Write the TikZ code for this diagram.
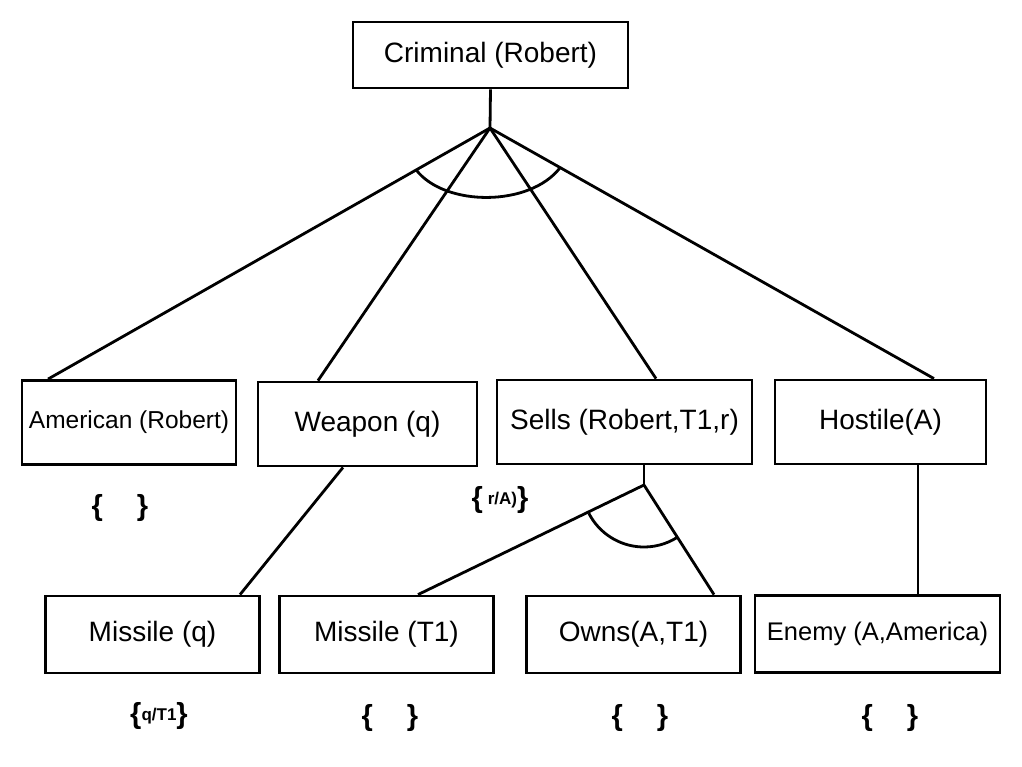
\documentclass[tikz,border=0pt]{standalone}
\usepackage{fontspec}
\setmainfont{Liberation Sans}
\usetikzlibrary{calc}

\newcommand{\substtext}[1]{\raisebox{3pt}{\fontsize{17}{20}\selectfont #1}}

\begin{document}
\begin{tikzpicture}[x=1pt, y=-1pt]
    % Define styles
    \tikzstyle{box} = [rectangle, draw=black, line width=2.8pt, inner sep=0pt, align=center, font=\fontsize{28}{34}\selectfont]
    \tikzstyle{topbox} = [box, minimum width=275pt, minimum height=66pt]
    \tikzstyle{midbox} = [box, minimum height=84pt]
    \tikzstyle{lowbox} = [box, minimum width=214pt, minimum height=77pt]
    \tikzstyle{link} = [line width=2.8pt, line join=round]
    \tikzstyle{subst} = [inner sep=0pt, font=\bfseries\fontsize{29}{34}\selectfont]

    \useasboundingbox (0,0) rectangle (1022,766);

    % Goal
    \node[topbox] (crim) at (490.5,55) {Criminal (Robert)};

    % Sub-goals
    \node[midbox, minimum width=214pt, font=\fontsize{24.5}{30}\selectfont] (amer) at (129,422.5) {American (Robert)};
    \node[midbox, minimum width=219pt] (weap) at (367.5,424) {Weapon (q)};
    \node[midbox, minimum width=255pt] (sells) at (624.5,422) {Sells (Robert,T1,r)};
    \node[midbox, minimum width=211pt] (host) at (880.5,422) {Hostile(A)};

    % Facts
    \node[lowbox] (misq) at (152.5,634.5) {Missile (q)};
    \node[lowbox] (mist) at (386.5,634.5) {Missile (T1)};
    \node[lowbox] (owns) at (633.5,634.5) {Owns(A,T1)};
    \node[lowbox, minimum width=245pt, font=\fontsize{25.5}{30}\selectfont] (enem) at (877.5,634) {Enemy (A,America)};

    % Junctions
    \coordinate (top) at (490,128);
    \coordinate (mid) at (644,485);

    % Links from the goal
    \draw[link] (crim.south) -- (top);
    \draw[link] (top) -- ([xshift=-81pt]amer.north) coordinate[pos=0.167] (al);
    \draw[link] (top) -- ([xshift=-49.5pt]weap.north);
    \draw[link] (top) -- ([xshift=31.5pt]sells.north);
    \draw[link] (top) -- ([xshift=53.5pt]host.north) coordinate[pos=0.158] (ar);
    \draw[link] (al) .. controls (445,207) and (530,207) .. (ar);

    % Links to the facts
    \draw[link] ([xshift=-24.5pt]weap.south) -- ([xshift=87.5pt]misq.north);
    \draw[link] ([xshift=19.5pt]sells.south) -- (mid);
    \draw[link] (mid) -- ([xshift=31.5pt]mist.north);
    \draw[link] (mid) -- ([xshift=80.5pt]owns.north);
    \draw[link] (mid) ++(153:62) arc[start angle=153, end angle=58, radius=62];
    \draw[link] ([xshift=37.5pt]host.south) -- ([xshift=40.5pt]enem.north);

    % Substitutions
    \node[subst] (s1) at (120,508) {\{\hspace{34pt}\}};
    \node[subst] (s2) at (500,500) {\{\,\substtext{r/A)}\}};
    \node[subst] (s3) at (159,716) {\{\substtext{q/T1}\}};
    \node[subst] (s4) at (390,718) {\{\hspace{34pt}\}};
    \node[subst] (s5) at (640,718) {\{\hspace{34pt}\}};
    \node[subst] (s6) at (890,718) {\{\hspace{34pt}\}};

\end{tikzpicture}
\end{document}
